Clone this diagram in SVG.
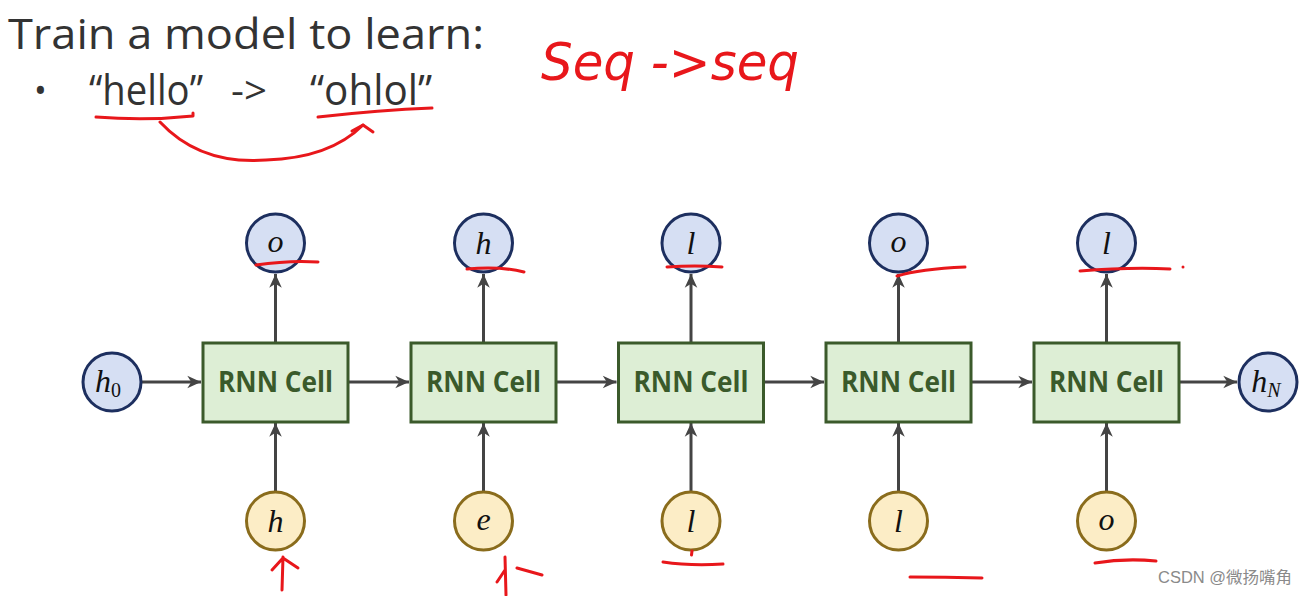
<svg xmlns="http://www.w3.org/2000/svg" width="1307" height="596" viewBox="0 0 1307 596">
<defs>
<style>
.title{font-family:"Open Sans","Liberation Sans",sans-serif;fill:#333;}
.cell rect{fill:#ddeed5;stroke:#3b5a2b;stroke-width:3;}
.cell text{font-family:"Open Sans","Liberation Sans",sans-serif;font-weight:bold;font-size:28px;fill:#3a5a2b;text-anchor:middle;}
.out circle{fill:#d6dff3;stroke:#1d2f5f;stroke-width:3;}
.in circle{fill:#fcedc6;stroke:#8a6c1c;stroke-width:3;}
.lbl{font-family:"Liberation Serif","DejaVu Serif",serif;font-style:italic;font-size:32px;fill:#111;text-anchor:middle;}
.sub{font-size:20px;}
.conn line{stroke:#444;stroke-width:3;marker-end:url(#ah);}
.red{fill:none;stroke:#e8171b;stroke-width:3;stroke-linecap:round;stroke-linejoin:round;}
</style>
<marker id="ah" markerUnits="userSpaceOnUse" viewBox="0 0 14 14" refX="13" refY="7" markerWidth="16" markerHeight="16" orient="auto">
<path d="M1,1.5 L13,7 L1,12.5 L4.5,7 Z" fill="#444"/>
</marker>
</defs>
<rect width="1307" height="596" fill="#fff"/>

<g id="header">
<text class="title" x="8" y="49" font-size="42" textLength="476" lengthAdjust="spacingAndGlyphs">Train a model to learn:</text>
<text class="title" x="34" y="103" font-size="34">•</text>
<text class="title" x="89" y="105" font-size="42" textLength="114" lengthAdjust="spacingAndGlyphs">“hello”</text>
<text class="title" x="231" y="104" font-size="38" textLength="36" lengthAdjust="spacingAndGlyphs">-&gt;</text>
<text class="title" x="310" y="105" font-size="42" textLength="122" lengthAdjust="spacingAndGlyphs">“ohlol”</text>
</g>

<g id="connectors" class="conn">
<line x1="141" y1="382" x2="201" y2="382"/>
<line x1="348" y1="382" x2="409" y2="382"/>
<line x1="556" y1="382" x2="616.5" y2="382"/>
<line x1="763.5" y1="382" x2="824" y2="382"/>
<line x1="971" y1="382" x2="1032" y2="382"/>
<line x1="1179" y1="382" x2="1237" y2="382"/>
<line x1="275.5" y1="343" x2="275.5" y2="274"/>
<line x1="483.5" y1="343" x2="483.5" y2="274"/>
<line x1="691" y1="343" x2="691" y2="274"/>
<line x1="898.5" y1="343" x2="898.5" y2="274"/>
<line x1="1106.5" y1="343" x2="1106.5" y2="274"/>
<line x1="275.5" y1="491" x2="275.5" y2="423"/>
<line x1="483.5" y1="491" x2="483.5" y2="423"/>
<line x1="691" y1="491" x2="691" y2="423"/>
<line x1="898.5" y1="491" x2="898.5" y2="423"/>
<line x1="1106.5" y1="491" x2="1106.5" y2="423"/>
</g>

<g id="cell1" class="cell"><rect x="203" y="343" width="145" height="79"/><text x="275.5" y="392" textLength="115" lengthAdjust="spacingAndGlyphs">RNN Cell</text></g>
<g id="cell2" class="cell"><rect x="411" y="343" width="145" height="79"/><text x="483.5" y="392" textLength="115" lengthAdjust="spacingAndGlyphs">RNN Cell</text></g>
<g id="cell3" class="cell"><rect x="618.5" y="343" width="145" height="79"/><text x="691" y="392" textLength="115" lengthAdjust="spacingAndGlyphs">RNN Cell</text></g>
<g id="cell4" class="cell"><rect x="826" y="343" width="145" height="79"/><text x="898.5" y="392" textLength="115" lengthAdjust="spacingAndGlyphs">RNN Cell</text></g>
<g id="cell5" class="cell"><rect x="1034" y="343" width="145" height="79"/><text x="1106.5" y="392" textLength="115" lengthAdjust="spacingAndGlyphs">RNN Cell</text></g>

<g id="h0" class="out"><circle cx="112" cy="382" r="29"/><text class="lbl" x="108" y="392">h<tspan class="sub" font-style="normal" dy="5">0</tspan></text></g>
<g id="hN" class="out"><circle cx="1268" cy="382" r="29"/><text class="lbl" x="1266" y="392">h<tspan class="sub" dy="5">N</tspan></text></g>

<g id="out1" class="out"><circle cx="275.5" cy="243" r="29"/><text class="lbl" x="275.5" y="252">o</text></g>
<g id="out2" class="out"><circle cx="483.5" cy="243" r="29"/><text class="lbl" x="483.5" y="254">h</text></g>
<g id="out3" class="out"><circle cx="691" cy="243" r="29"/><text class="lbl" x="691" y="254">l</text></g>
<g id="out4" class="out"><circle cx="898.5" cy="243" r="29"/><text class="lbl" x="898.5" y="252">o</text></g>
<g id="out5" class="out"><circle cx="1106.5" cy="243" r="29"/><text class="lbl" x="1106.5" y="254">l</text></g>

<g id="in1" class="in"><circle cx="275.5" cy="521" r="29"/><text class="lbl" x="275.5" y="532">h</text></g>
<g id="in2" class="in"><circle cx="483.5" cy="521" r="29"/><text class="lbl" x="483.5" y="530">e</text></g>
<g id="in3" class="in"><circle cx="691" cy="521" r="29"/><text class="lbl" x="691" y="532">l</text></g>
<g id="in4" class="in"><circle cx="898.5" cy="521" r="29"/><text class="lbl" x="898.5" y="532">l</text></g>
<g id="in5" class="in"><circle cx="1106.5" cy="521" r="29"/><text class="lbl" x="1106.5" y="530">o</text></g>

<g id="annotations">
<text x="541" y="80" font-family="DejaVu Sans,sans-serif" font-size="52" font-weight="200" font-style="italic" fill="#e8171b" textLength="258" lengthAdjust="spacingAndGlyphs">Seq -&gt;seq</text>
<path class="red" d="M96,117 Q146,121 193,116 L193,113"/>
<path class="red" d="M160,122 Q200,165 266,160 Q330,158 363,125"/>
<path class="red" d="M352,131 L363,125 L373,132"/>
<path class="red" d="M318,117 Q380,110 432,108"/>
<path class="red" d="M256,265 Q290,260 318,262"/>
<path class="red" d="M467,269 Q500,266 524,272"/>
<path class="red" d="M667,267 Q695,265 722,267"/>
<path class="red" d="M897,276 Q920,269 965,267"/>
<path class="red" d="M1080,271 Q1130,267 1170,269"/>
<circle cx="1183" cy="267" r="1.5" fill="#e8171b"/>
<path class="red" d="M283,557 L282,590 M272,570 L283,558 L298,568"/>
<path class="red" d="M505,557 L506,595 M497,582 L505,570 M517,568 L542,575"/>
<path class="red" d="M692,551 L691.5,555"/>
<path class="red" d="M663,562 Q690,566 723,564"/>
<path class="red" d="M910,577 Q945,577 982,578"/>
<path class="red" d="M1095,563 Q1125,558 1156,561"/>
</g>

<text x="1158" y="583" font-family="Liberation Sans,Noto Sans CJK SC,sans-serif" font-size="16" fill="#8a8a8a" textLength="134" lengthAdjust="spacingAndGlyphs">CSDN @微扬嘴角</text>
</svg>
